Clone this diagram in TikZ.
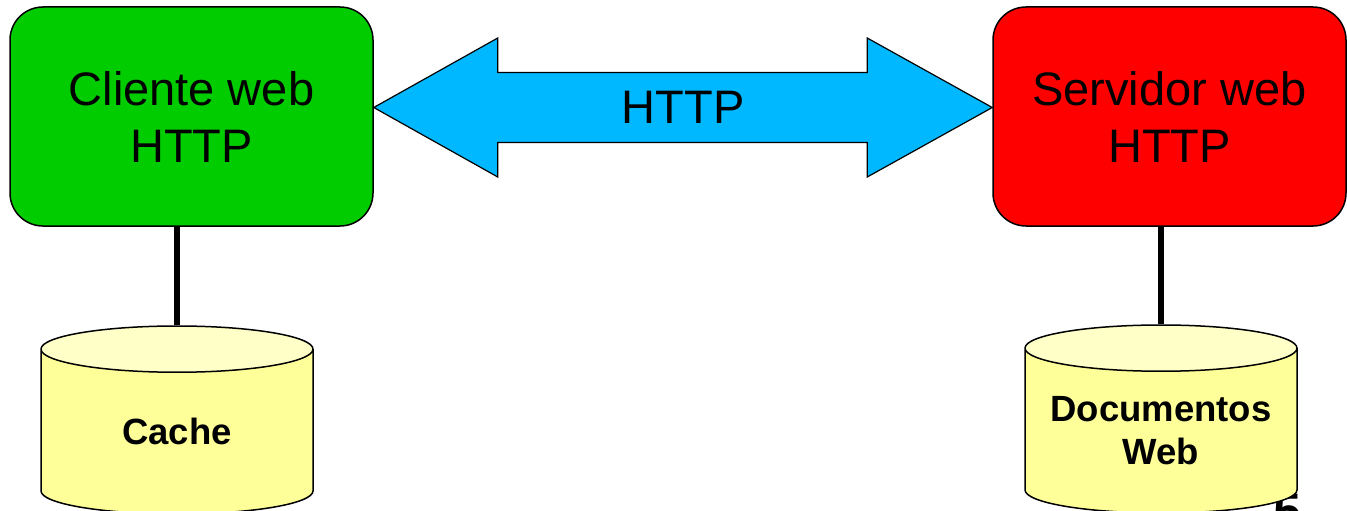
\documentclass[tikz,border=0pt]{standalone}
\usepackage{fontspec}
\setmainfont{Liberation Sans}
\usepackage{tikz}
\usetikzlibrary{positioning,calc,shapes.geometric}
\definecolor{clientgreen}{HTML}{00CC00}
\definecolor{serverred}{HTML}{FF0000}
\definecolor{httpblue}{HTML}{00B8FF}
\definecolor{dbyellow}{HTML}{FFFF99}
\definecolor{dbtop}{HTML}{FFFFC8}

\begin{document}
\begin{tikzpicture}[x=1pt, y=-1pt, line width=1.5pt,
    box/.style={draw, rounded corners=33pt, minimum height=219pt, inner sep=0pt,
        align=center, font=\fontsize{47}{57}\selectfont},
    db/.style={draw, cylinder, shape border rotate=90, aspect=0.17, anchor=shape center,
        text width=272pt, minimum height=188pt, inner sep=0pt,
        cylinder uses custom fill, cylinder body fill=dbyellow, cylinder end fill=dbtop,
        align=center, font=\fontsize{36.5}{43}\selectfont\bfseries}]
    \useasboundingbox (0,0) rectangle (1347,511);
    \node[box, fill=clientgreen, minimum width=363pt] (client) at (191.5,116.5) {Cliente web\\HTTP};
    \node[box, fill=serverred, minimum width=353pt] (server) at (1169.5,116.5) {Servidor web\\HTTP};
    \coordinate (l) at ($(client.east)+(0,-9)$);
    \coordinate (r) at ($(server.west)+(0,-9)$);
    \filldraw[fill=httpblue, line width=1.2pt] (l) -- ($(l)+(124,-69.5)$) -- ($(l)+(124,-35)$)
        -- ($(r)+(-125,-35)$) -- ($(r)+(-125,-69.5)$) -- (r) -- ($(r)+(-125,69.5)$)
        -- ($(r)+(-125,35)$) -- ($(l)+(124,35)$) -- ($(l)+(124,69.5)$) -- cycle;
    \node[font=\fontsize{47}{57}\selectfont] (http) at ($(l)!0.5!(r)$) {HTTP};
    \node[font=\fontsize{50}{50}\selectfont\bfseries, anchor=base west, inner sep=0pt] (slide) at (1273,528) {5};
    \node[db] (cache) at (177,420) {Cache};
    \node[db] (docs) at (1161,419) {Documentos\\Web};
    \draw[line width=6pt] (cache.top) -- (cache.top |- client.south);
    \draw[line width=6pt] (docs.top) -- (docs.top |- server.south);
\end{tikzpicture}
\end{document}
